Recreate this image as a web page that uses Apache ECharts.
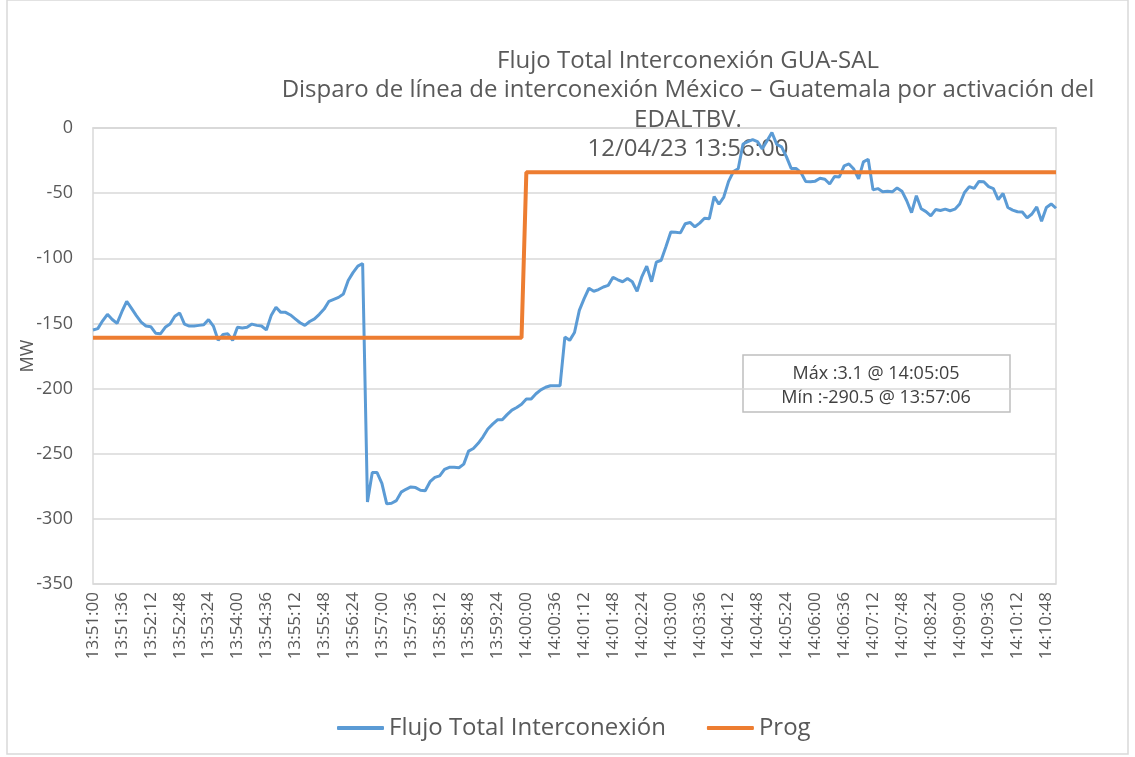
<!DOCTYPE html>
<html>
<head>
<meta charset="utf-8">
<title>Flujo Total Interconexión GUA-SAL</title>
<script src="https://cdn.jsdelivr.net/npm/echarts@6/dist/echarts.min.js"></script>
<style>
    html, body { margin: 0; padding: 0; background: #fff; }
    #chart { width: 1135px; height: 757px; }
</style>
</head>
<body>
<div id="chart"></div>
<script>
'use strict';

// ===== datos =====
const titleLines = [
    'Flujo Total Interconexión GUA-SAL',
    'Disparo de línea de interconexión México – Guatemala por activación del',
    'EDALTBV.',
    '12/04/23 13:56:00'
];
const seriesNames = ['Flujo Total Interconexión', 'Prog'];
const yTicks = [-350, 0, 50]; // min, max, interval

// muestras cada 6 s desde 13:51:00
const startTime = '13:51:00';
const stepSeconds = 6;
const flujo = [
    -155, -154, -148, -143, -147, -150, -141, -133, -138.5, -144,
    -149, -152, -152.5, -157.5, -158, -153, -150.5, -144.5, -142, -150.5,
    -152, -152, -151.5, -151, -147, -152, -163, -158.5, -158, -163,
    -153, -153.5, -153, -150.5, -151.5, -152, -155, -144, -137.6, -141.5,
    -141.5, -143.5, -146.5, -149.5, -151.5, -148.5, -146.5, -143, -139, -133,
    -131.5, -130, -127.5, -117, -111, -106, -104, -287, -264.5, -264.5,
    -272.7, -288.5, -288, -286, -279.5, -277.3, -275.5, -276, -278, -278.4,
    -271.5, -268.2, -267, -262, -260.4, -260.4, -260.8, -258, -248, -246,
    -242, -237, -231, -227.3, -224, -224, -220, -216.5, -214.5, -212,
    -208, -208, -204, -201, -199, -197.8, -197.8, -197.8, -160.5, -163,
    -157, -140, -131, -123, -125.3, -124, -122, -120.8, -114.6, -116.5,
    -118, -115.5, -118, -125.4, -114, -106, -118, -103, -101.5, -91,
    -79.8, -80, -80.5, -73.5, -72.5, -75.8, -73, -69.3, -69.6, -52.7,
    -58.5, -53, -41, -33.5, -31.3, -12.3, -10.5, -9, -10.5, -16,
    -9.8, -3.5, -12.6, -14.5, -22, -31, -31, -34, -41, -41.2,
    -40.8, -38.6, -39.3, -43, -37.2, -37.6, -29, -27.6, -31.5, -39,
    -26, -24, -47.5, -46.5, -48.9, -48.5, -49, -46, -48.5, -55.8,
    -65, -52, -62, -64.2, -67.5, -62.6, -63.3, -62.3, -63.5, -62.3,
    -58.3, -49.5, -45, -46.3, -41, -41.2, -45, -46.5, -55, -50.3,
    -61, -63, -64.3, -64.5, -69, -66, -60.6, -71.5, -61, -58.3,
    -61.6
];

// programado: escalon
const progTimes = ['13:51:00', '13:59:54', '14:00:00', '14:11:00'];
const progValues = [-161, -161, -34, -34];

const boxLines = ['Máx :3.1 @ 14:05:05', 'Mín :-290.5 @ 13:57:06'];

// ===== categorias de tiempo =====
function toSec(s) {
    let p = s.split(':');
    return (+p[0]) * 3600 + (+p[1]) * 60 + (+p[2]);
}
function toTime(sec) {
    let h = Math.floor(sec / 3600),
        m = Math.floor((sec % 3600) / 60),
        s = sec % 60;
    let pad = function(n) { return (n < 10 ? '0' : '') + n; };
    return pad(h) + ':' + pad(m) + ':' + pad(s);
}
let categories = [];
for (let i = 0; i < flujo.length; i++) {
    categories.push(toTime(toSec(startTime) + i * stepSeconds));
}

let initChart = (function() {
    const grey = '#595959';
    const font = '"Open Sans", "Noto Sans", sans-serif';
    let myChart = echarts.init(document.getElementById('chart'));

    let option = {
        backgroundColor: '#fff',
        animation: false,
        title: {
            text: titleLines.join('\n'),
            left: 683,
            top: 41,
            textAlign: 'center',
            z: 0,
            textStyle: {
                color: grey,
                fontFamily: font,
                fontSize: 24,
                fontWeight: 'normal',
                lineHeight: 29.5
            }
        },
        legend: {
            top: 711,
            left: 332,
            icon: 'roundRect',
            itemWidth: 47,
            itemHeight: 4,
            itemGap: 41,
            textStyle: { color: grey, fontFamily: font, fontSize: 24 },
            data: seriesNames
        },
        grid: {
            left: 93,
            right: 79,
            top: 128,
            bottom: 173,
            show: true,
            borderColor: '#d9d9d9',
            borderWidth: 1.5
        },
        xAxis: {
            type: 'category',
            data: categories,
            boundaryGap: false,
            axisLine: { lineStyle: { color: '#d9d9d9', width: 1.5 } },
            axisTick: { show: false },
            axisLabel: {
                interval: 5,
                rotate: 90,
                margin: 8,
                color: grey,
                fontFamily: font,
                fontSize: 17
            },
            splitLine: { show: false }
        },
        yAxis: {
            type: 'value',
            min: yTicks[0],
            max: yTicks[1],
            interval: yTicks[2],
            name: 'MW',
            nameLocation: 'middle',
            nameGap: 56,
            nameMoveOverlap: false,
            nameTextStyle: { color: grey, fontFamily: font, fontSize: 18 },
            axisLine: { show: false },
            axisTick: { show: false },
            axisLabel: { color: grey, fontFamily: font, fontSize: 18, margin: 20 },
            splitLine: { lineStyle: { color: '#d9d9d9', width: 1.5 } }
        },
        series: [{
            name: seriesNames[0],
            type: 'line',
            data: flujo,
            symbol: 'none',
            z: 3,
            lineStyle: { color: '#5b9bd5', width: 3 },
            itemStyle: { color: '#5b9bd5' }
        }, {
            name: seriesNames[1],
            type: 'line',
            data: progTimes.map(function(t, i) { return [t, progValues[i]]; }),
            symbol: 'none',
            z: 4,
            lineStyle: { color: '#ed7d31', width: 4 },
            itemStyle: { color: '#ed7d31' }
        }],
        graphic: [{
            type: 'rect',
            shape: { x: 7, y: 0, width: 1121, height: 754 },
            style: { fill: 'none', stroke: '#d9d9d9', lineWidth: 1.5 },
            silent: true,
            z: -10
        }, {
            type: 'group',
            z: 10,
            children: [{
                type: 'rect',
                shape: { x: 743, y: 355, width: 267, height: 57 },
                style: { fill: '#fff', stroke: '#bfbfbf', lineWidth: 1.5 }
            }, {
                type: 'text',
                style: {
                    x: 876, y: 374,
                    text: boxLines[0],
                    align: 'center', verticalAlign: 'middle',
                    fill: '#404040', font: '18px ' + font
                }
            }, {
                type: 'text',
                style: {
                    x: 876, y: 398,
                    text: boxLines[1],
                    align: 'center', verticalAlign: 'middle',
                    fill: '#404040', font: '18px ' + font
                }
            }]
        }]
    };

    myChart.setOption(option);
})();
</script>
</body>
</html>
